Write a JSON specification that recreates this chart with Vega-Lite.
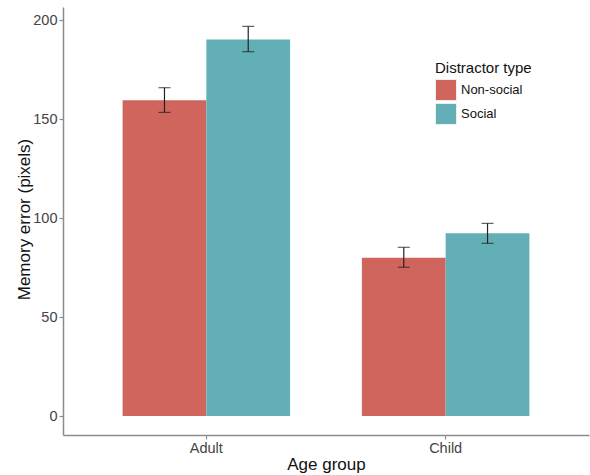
{
  "$schema": "https://vega.github.io/schema/vega-lite/v6.json",
  "width": 526,
  "height": 428,
  "autosize": {"type": "none"},
  "padding": {"left": 63, "top": 7, "right": 1, "bottom": 40},
  "background": "white",
  "config": {
    "view": {"stroke": null},
    "font": "Liberation Sans",
    "axis": {
      "grid": false,
      "domainColor": "#8c8c8c",
      "domainWidth": 1.5,
      "tickColor": "#8c8c8c",
      "tickWidth": 1.2,
      "tickSize": 4,
      "labelColor": "#444444",
      "labelFont": "Liberation Sans",
      "labelFontSize": 14.5,
      "labelPadding": 2,
      "titleColor": "#111111",
      "titleFont": "Liberation Sans",
      "titleFontSize": 17,
      "titleFontWeight": "normal"
    }
  },
  "data": {
    "values": [
      {"age": "Adult", "type": "Non-social", "mean": 159.7, "lo": 153.5, "hi": 166.0},
      {"age": "Adult", "type": "Social", "mean": 190.4, "lo": 184.2, "hi": 197.0},
      {"age": "Child", "type": "Non-social", "mean": 80.0, "lo": 75.2, "hi": 85.3},
      {"age": "Child", "type": "Social", "mean": 92.4, "lo": 87.3, "hi": 97.4}
    ]
  },
  "encoding": {
    "x": {
      "field": "age",
      "type": "nominal",
      "title": "Age group",
      "scale": {"paddingInner": 0.3, "paddingOuter": 0.249},
      "axis": {"labelAngle": 0, "titleBaseline": "alphabetic", "titleY": 34}
    },
    "xOffset": {"field": "type", "type": "nominal"}
  },
  "layer": [
    {
      "mark": {"type": "bar"},
      "encoding": {
        "y": {
          "field": "mean",
          "type": "quantitative",
          "title": "Memory error (pixels)",
          "scale": {"domain": [-9.6, 206.8], "nice": false, "zero": false},
          "axis": {"values": [0, 50, 100, 150, 200], "titleX": -38.5, "titleY": 212, "titleAngle": -90, "titleAlign": "center", "titleBaseline": "middle"}
        },
        "y2": {"datum": 0},
        "color": {
          "field": "type",
          "type": "nominal",
          "scale": {"domain": ["Non-social", "Social"], "range": ["#CF655C", "#62B0B5"]},
          "legend": {
            "title": "Distractor type",
            "orient": "none",
            "legendX": 372,
            "legendY": 54,
            "titleFontSize": 15,
            "titleFontWeight": "normal",
            "titleColor": "#111111",
            "titleFont": "Liberation Sans",
            "titlePadding": 3,
            "labelFontSize": 13,
            "labelFont": "Liberation Sans",
            "labelColor": "#111111",
            "labelOffset": 4,
            "symbolType": "square",
            "symbolSize": 441,
            "symbolStrokeColor": "#eeeeee",
            "symbolStrokeWidth": 1,
            "rowPadding": -2
          }
        }
      }
    },
    {
      "mark": {"type": "rule", "color": "#222222", "strokeWidth": 1.2},
      "encoding": {
        "y": {"field": "lo", "type": "quantitative"},
        "y2": {"field": "hi"}
      }
    },
    {
      "mark": {"type": "tick", "color": "#222222", "thickness": 1.2, "size": 12, "orient": "horizontal"},
      "encoding": {"y": {"field": "lo", "type": "quantitative"}}
    },
    {
      "mark": {"type": "tick", "color": "#222222", "thickness": 1.2, "size": 12, "orient": "horizontal"},
      "encoding": {"y": {"field": "hi", "type": "quantitative"}}
    }
  ]
}
